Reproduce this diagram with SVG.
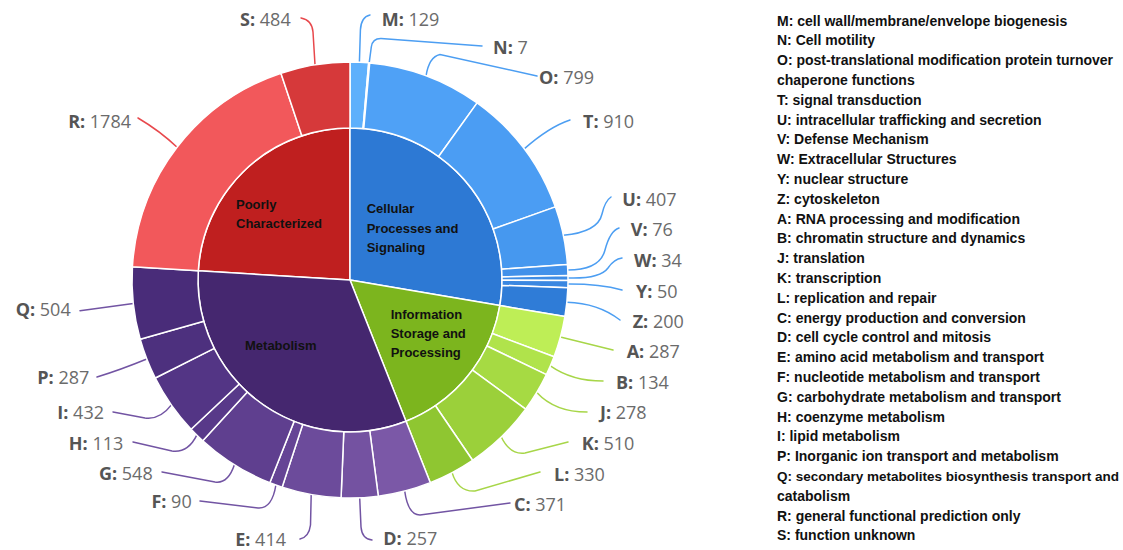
<svg xmlns="http://www.w3.org/2000/svg" width="1123" height="550" viewBox="0 0 1123 550">
<style>
.seg{stroke:#fff;stroke-width:1.5;stroke-linejoin:round}
.in{stroke:#fff;stroke-width:1.5;stroke-linejoin:round}
.lbl{font-family:"Open Sans","DejaVu Sans",sans-serif;font-size:18px;fill:#6b6b6b}
.lbl .k{font-weight:bold;fill:#555}
.e{text-anchor:end}
.ld{fill:none;stroke-width:1.5;stroke-linecap:round}
.lb{stroke:#4c9ef2}.lg{stroke:#a7d648}.lp{stroke:#7254a3}.lr{stroke:#e8484c}
.cat{font-family:"Liberation Sans",Arial,sans-serif;font-weight:bold;font-size:13px;fill:#111}
.leg{font-family:"Liberation Sans",Arial,sans-serif;font-weight:bold;font-size:14px;fill:#111}
</style>
<rect width="1123" height="550" fill="#fff"/>

<g id="inner">
<g id="poorly"><path class="in" fill="#bf1f1f" d="M350,280 L198.28,270.82 A152,152 0 0 1 350,128 Z"/>
<text class="cat" x="236" y="209.3">Poorly</text><text class="cat" x="236" y="228.3">Characterized</text></g>
<g id="cellular"><path class="in" fill="#2d79d4" d="M350,280 L350,128 A152,152 0 0 1 499.84,305.51 Z"/>
<text class="cat" x="366.7" y="213.3">Cellular</text><text class="cat" x="366.7" y="232.7">Processes and</text><text class="cat" x="366.7" y="251.7">Signaling</text></g>
<g id="information"><path class="in" fill="#7cb51e" d="M350,280 L499.84,305.51 A152,152 0 0 1 405.99,421.31 Z"/>
<text class="cat" x="390.7" y="319.3">Information</text><text class="cat" x="390.7" y="338.3">Storage and</text><text class="cat" x="390.7" y="357.3">Processing</text></g>
<g id="metabolism"><path class="in" fill="#45276f" d="M350,280 L405.99,421.31 A152,152 0 0 1 198.28,270.82 Z"/>
<text class="cat" x="245" y="350">Metabolism</text></g>
</g>

<g id="connectors">
<path class="ld lb" d="M359.4,62.2 L360.4,30 Q361,17 370,15"/>
<path class="ld lb" d="M369.2,62.9 L371.3,47 Q372.5,38.5 381,38.6 L482,46"/>
<path class="ld lb" d="M426.1,75.7 Q429,57 440,54.5 L537,76"/>
<path class="ld lb" d="M524.2,148.9 Q549,127 570,120"/>
<path class="ld lb" d="M563.4,235.3 Q598,232 602,214 Q605,201 611,197"/>
<path class="ld lb" d="M567.8,270 Q600,270 605,250 Q610,231 619,228"/>
<path class="ld lb" d="M568,278 Q600,279 608,268 Q614,259 622,258"/>
<path class="ld lb" d="M568,284.1 Q600,284 622,290"/>
<path class="ld lb" d="M566.9,302.2 Q598,303 620,320"/>
<path class="ld lg" d="M560.4,336.9 L613,350"/>
<path class="ld lg" d="M550.4,365.8 Q572,381 603,381"/>
<path class="ld lg" d="M536.8,392.4 Q555,412 587,412"/>
<path class="ld lg" d="M501.3,437 Q510,455 525,453 L568,442"/>
<path class="ld lg" d="M452.1,472.6 Q458,492 475,491 L540,472"/>
<path class="ld lp" d="M404.7,491 Q408,515 420,515 L510,503"/>
<path class="ld lp" d="M359.7,497.8 L361,527 Q362,539 372,540"/>
<path class="ld lp" d="M311.2,494.5 L310.5,525 Q309,537 300,539"/>
<path class="ld lp" d="M275.9,485 Q272,509 258,508 L200,501"/>
<path class="ld lp" d="M234.4,464.8 Q228,484 215,482 L162,472"/>
<path class="ld lp" d="M196.8,435.1 Q188,453 172,451 L133,442"/>
<path class="ld lp" d="M171.4,404.9 Q160,420 145,418 L113,412"/>
<path class="ld lp" d="M146.8,359 Q120,370 97,377"/>
<path class="ld lp" d="M133.3,303.4 L80,310.7"/>
<path class="ld lr" d="M177.1,147.3 Q160,131 138,118"/>
<path class="ld lr" d="M315,64.8 L313,32 Q312,20 301,18"/>
</g>

<g id="ring">
<g id="seg-M"><path class="seg" fill="#5eb0fc" d="M350,62 A218,218 0 0 1 368.70,62.80 L363.04,128.56 A152,152 0 0 0 350,128 Z"/><text class="lbl" x="381.7" y="26"><tspan class="k">M:</tspan> 129</text></g>
<g id="seg-N"><path class="seg" fill="#53a5f7" d="M368.70,62.80 A218,218 0 0 1 369.72,62.89 L363.75,128.62 A152,152 0 0 0 363.04,128.56 Z"/><text class="lbl" x="493" y="54"><tspan class="k">N:</tspan> 7</text></g>
<g id="seg-O"><path class="seg" fill="#4fa1f6" d="M369.72,62.89 A218,218 0 0 1 477.14,102.91 L438.65,156.53 A152,152 0 0 0 363.75,128.62 Z"/><text class="lbl" x="539" y="84"><tspan class="k">O:</tspan> 799</text></g>
<g id="seg-T"><path class="seg" fill="#4b9df3" d="M477.14,102.91 A218,218 0 0 1 555.36,206.86 L493.19,229.01 A152,152 0 0 0 438.65,156.53 Z"/><text class="lbl" x="583" y="128.3"><tspan class="k">T:</tspan> 910</text></g>
<g id="seg-U"><path class="seg" fill="#4698ef" d="M555.36,206.86 A218,218 0 0 1 567.45,264.52 L501.62,269.20 A152,152 0 0 0 493.19,229.01 Z"/><text class="lbl" x="622.3" y="206"><tspan class="k">U:</tspan> 407</text></g>
<g id="seg-V"><path class="seg" fill="#4291ea" d="M567.45,264.52 A218,218 0 0 1 567.95,275.54 L501.97,276.89 A152,152 0 0 0 501.62,269.20 Z"/><text class="lbl" x="630.7" y="236"><tspan class="k">V:</tspan> 76</text></g>
<g id="seg-W"><path class="seg" fill="#3e8ce5" d="M567.95,275.54 A218,218 0 0 1 568.00,280.47 L502.00,280.33 A152,152 0 0 0 501.97,276.89 Z"/><text class="lbl" x="634" y="266.7"><tspan class="k">W:</tspan> 34</text></g>
<g id="seg-Y"><path class="seg" fill="#3a87e1" d="M568.00,280.47 A218,218 0 0 1 567.86,287.73 L501.90,285.39 A152,152 0 0 0 502.00,280.33 Z"/><text class="lbl" x="636" y="297.7"><tspan class="k">Y:</tspan> 50</text></g>
<g id="seg-Z"><path class="seg" fill="#2f7cd7" d="M567.86,287.73 A218,218 0 0 1 564.91,316.59 L499.84,305.51 A152,152 0 0 0 501.90,285.39 Z"/><text class="lbl" x="632.7" y="328.3"><tspan class="k">Z:</tspan> 200</text></g>
<g id="seg-A"><path class="seg" fill="#beee56" d="M564.91,316.59 A218,218 0 0 1 554.04,356.75 L492.27,333.51 A152,152 0 0 0 499.84,305.51 Z"/><text class="lbl" x="626.7" y="358.3"><tspan class="k">A:</tspan> 287</text></g>
<g id="seg-B"><path class="seg" fill="#b0e34b" d="M554.04,356.75 A218,218 0 0 1 546.39,374.63 L486.93,345.98 A152,152 0 0 0 492.27,333.51 Z"/><text class="lbl" x="616" y="389.3"><tspan class="k">B:</tspan> 134</text></g>
<g id="seg-J"><path class="seg" fill="#a6da43" d="M546.39,374.63 A218,218 0 0 1 525.62,409.16 L472.45,370.06 A152,152 0 0 0 486.93,345.98 Z"/><text class="lbl" x="600" y="419.3"><tspan class="k">J:</tspan> 278</text></g>
<g id="seg-K"><path class="seg" fill="#9bd03a" d="M525.62,409.16 A218,218 0 0 1 472.56,460.29 L435.45,405.71 A152,152 0 0 0 472.45,370.06 Z"/><text class="lbl" x="581.7" y="450"><tspan class="k">K:</tspan> 510</text></g>
<g id="seg-L"><path class="seg" fill="#8fc631" d="M472.56,460.29 A218,218 0 0 1 430.30,482.67 L405.99,421.31 A152,152 0 0 0 435.45,405.71 Z"/><text class="lbl" x="554" y="480.7"><tspan class="k">L:</tspan> 330</text></g>
<g id="seg-C"><path class="seg" fill="#7b58a7" d="M430.30,482.67 A218,218 0 0 1 378.30,496.16 L369.73,430.71 A152,152 0 0 0 405.99,421.31 Z"/><text class="lbl" x="514" y="510.7"><tspan class="k">C:</tspan> 371</text></g>
<g id="seg-D"><path class="seg" fill="#7452a1" d="M378.30,496.16 A218,218 0 0 1 341.07,497.82 L343.78,431.87 A152,152 0 0 0 369.73,430.71 Z"/><text class="lbl" x="383.3" y="544.5"><tspan class="k">D:</tspan> 257</text></g>
<g id="seg-E"><path class="seg" fill="#6c4b9b" d="M341.07,497.82 A218,218 0 0 1 282.11,487.16 L302.67,424.44 A152,152 0 0 0 343.78,431.87 Z"/><text class="lbl e" x="286" y="545.5"><tspan class="k">E:</tspan> 414</text></g>
<g id="seg-F"><path class="seg" fill="#654495" d="M282.11,487.16 A218,218 0 0 1 269.83,482.72 L294.10,421.35 A152,152 0 0 0 302.67,424.44 Z"/><text class="lbl e" x="191.7" y="508"><tspan class="k">F:</tspan> 90</text></g>
<g id="seg-G"><path class="seg" fill="#5f3f8f" d="M269.83,482.72 A218,218 0 0 1 202.76,440.76 L247.34,392.09 A152,152 0 0 0 294.10,421.35 Z"/><text class="lbl e" x="152.7" y="480"><tspan class="k">G:</tspan> 548</text></g>
<g id="seg-H"><path class="seg" fill="#583989" d="M202.76,440.76 A218,218 0 0 1 191.09,429.24 L239.20,384.05 A152,152 0 0 0 247.34,392.09 Z"/><text class="lbl e" x="123.3" y="450"><tspan class="k">H:</tspan> 113</text></g>
<g id="seg-I"><path class="seg" fill="#533585" d="M191.09,429.24 A218,218 0 0 1 155.27,378.02 L214.23,348.34 A152,152 0 0 0 239.20,384.05 Z"/><text class="lbl e" x="104" y="419.3"><tspan class="k">I:</tspan> 432</text></g>
<g id="seg-P"><path class="seg" fill="#4d307e" d="M155.27,378.02 A218,218 0 0 1 140.20,339.24 L203.72,321.31 A152,152 0 0 0 214.23,348.34 Z"/><text class="lbl e" x="89.3" y="384.3"><tspan class="k">P:</tspan> 287</text></g>
<g id="seg-Q"><path class="seg" fill="#492c79" d="M140.20,339.24 A218,218 0 0 1 132.40,266.83 L198.28,270.82 A152,152 0 0 0 203.72,321.31 Z"/><text class="lbl e" x="70.7" y="316"><tspan class="k">Q:</tspan> 504</text></g>
<g id="seg-R"><path class="seg" fill="#f2585b" d="M132.40,266.83 A218,218 0 0 1 280.94,73.22 L301.85,135.83 A152,152 0 0 0 198.28,270.82 Z"/><text class="lbl e" x="131" y="128"><tspan class="k">R:</tspan> 1784</text></g>
<g id="seg-S"><path class="seg" fill="#d6393a" d="M280.94,73.22 A218,218 0 0 1 350,62 L350,128 A152,152 0 0 0 301.85,135.83 Z"/><text class="lbl e" x="290.7" y="26"><tspan class="k">S:</tspan> 484</text></g>
</g>

<g id="legend">
<text class="leg" x="777" y="25.5">M: cell wall/membrane/envelope biogenesis</text>
<text class="leg" x="777" y="45.3">N: Cell motility</text>
<text class="leg" x="777" y="65.1">O: post-translational modification protein turnover</text>
<text class="leg" x="777" y="84.9">chaperone functions</text>
<text class="leg" x="777" y="104.7">T: signal transduction</text>
<text class="leg" x="777" y="124.5">U: intracellular trafficking and secretion</text>
<text class="leg" x="777" y="144.3">V: Defense Mechanism</text>
<text class="leg" x="777" y="164.1">W: Extracellular Structures</text>
<text class="leg" x="777" y="183.9">Y: nuclear structure</text>
<text class="leg" x="777" y="203.7">Z: cytoskeleton</text>
<text class="leg" x="777" y="223.5">A: RNA processing and modification</text>
<text class="leg" x="777" y="243.3">B: chromatin structure and dynamics</text>
<text class="leg" x="777" y="263.1">J: translation</text>
<text class="leg" x="777" y="282.9">K: transcription</text>
<text class="leg" x="777" y="302.7">L: replication and repair</text>
<text class="leg" x="777" y="322.5">C: energy production and conversion</text>
<text class="leg" x="777" y="342.3">D: cell cycle control and mitosis</text>
<text class="leg" x="777" y="362.1">E: amino acid metabolism and transport</text>
<text class="leg" x="777" y="381.9">F: nucleotide metabolism and transport</text>
<text class="leg" x="777" y="401.7">G: carbohydrate metabolism and transport</text>
<text class="leg" x="777" y="421.5">H: coenzyme metabolism</text>
<text class="leg" x="777" y="441.3">I: lipid metabolism</text>
<text class="leg" x="777" y="461.1">P: Inorganic ion transport and metabolism</text>
<text class="leg" x="777" y="480.9" style="font-size:13.5px">Q: secondary metabolites biosynthesis transport and</text>
<text class="leg" x="777" y="500.7">catabolism</text>
<text class="leg" x="777" y="520.5">R: general functional prediction only</text>
<text class="leg" x="777" y="540.3">S: function unknown</text>
</g>
</svg>
